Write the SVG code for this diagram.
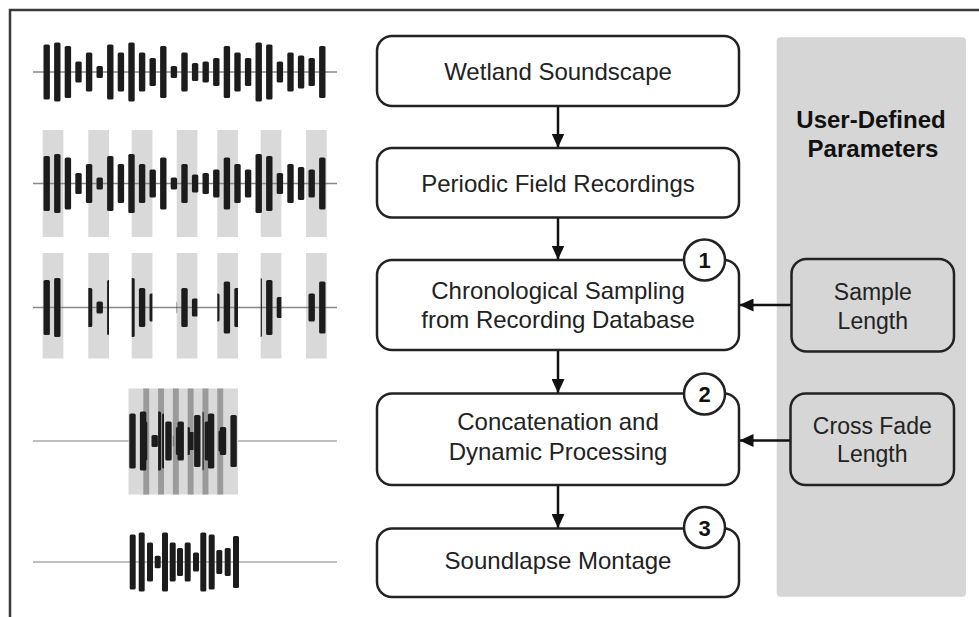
<svg xmlns="http://www.w3.org/2000/svg" xmlns:xlink="http://www.w3.org/1999/xlink" width="979" height="617" viewBox="0 0 979 617">
<style>
.node{fill:#fff;stroke:#222;stroke-width:2.5}
.param{fill:#d6d6d6;stroke:#222;stroke-width:2.5}
.t{font-family:"Liberation Sans",Arial,sans-serif;font-size:24px;fill:#222;text-anchor:middle}
.tp{font-family:"Liberation Sans",Arial,sans-serif;font-size:23px;fill:#222;text-anchor:middle}
.tb{font-family:"Liberation Sans",Arial,sans-serif;font-size:24px;font-weight:bold;fill:#111;text-anchor:middle}
.num{font-family:"Liberation Sans",Arial,sans-serif;font-size:22px;font-weight:bold;fill:#111;text-anchor:middle}
.badge{fill:#fff;stroke:#222;stroke-width:2.5}
.conn{stroke:#111;stroke-width:2.5;fill:none}
.bar{fill:#1c1c1c}
.axis{stroke:#888;stroke-width:1.3}
.axis2{stroke:#aaa;stroke-width:1.5}
.seg{fill:#d9d9d9}
.ovl{fill:#9a9a9a}
</style>
<defs>
<marker id="ah" viewBox="0 0 14 13" refX="14" refY="6.5" markerWidth="14" markerHeight="13" markerUnits="userSpaceOnUse" orient="auto">
<path d="M0,0 L14,6.5 L0,13 z" fill="#111"/>
</marker>
<g id="wave" class="bar">
<rect x="43.5" y="-27.5" width="6.4" height="55" rx="1.6"/>
<rect x="54.1" y="-29.5" width="6.4" height="59" rx="1.6"/>
<rect x="64.7" y="-26" width="6.4" height="52" rx="1.6"/>
<rect x="75.3" y="-10.5" width="6.4" height="21" rx="1.6"/>
<rect x="85.9" y="-19.5" width="6.4" height="39" rx="1.6"/>
<rect x="96.5" y="-6" width="6.4" height="12" rx="1.6"/>
<rect x="107.1" y="-27.5" width="6.4" height="55" rx="1.6"/>
<rect x="117.7" y="-19.5" width="6.4" height="39" rx="1.6"/>
<rect x="128.3" y="-29.5" width="6.4" height="59" rx="1.6"/>
<rect x="138.9" y="-19.5" width="6.4" height="39" rx="1.6"/>
<rect x="149.5" y="-14" width="6.4" height="28" rx="1.6"/>
<rect x="160.1" y="-26" width="6.4" height="52" rx="1.6"/>
<rect x="170.7" y="-6" width="6.4" height="12" rx="1.6"/>
<rect x="181.3" y="-19.5" width="6.4" height="39" rx="1.6"/>
<rect x="191.9" y="-9" width="6.4" height="18" rx="1.6"/>
<rect x="202.5" y="-10.5" width="6.4" height="21" rx="1.6"/>
<rect x="213.1" y="-14" width="6.4" height="28" rx="1.6"/>
<rect x="223.7" y="-26" width="6.4" height="52" rx="1.6"/>
<rect x="234.3" y="-19.5" width="6.4" height="39" rx="1.6"/>
<rect x="244.9" y="-14" width="6.4" height="28" rx="1.6"/>
<rect x="255.5" y="-29.5" width="6.4" height="59" rx="1.6"/>
<rect x="266.1" y="-27.5" width="6.4" height="55" rx="1.6"/>
<rect x="276.7" y="-10.5" width="6.4" height="21" rx="1.6"/>
<rect x="287.3" y="-19.5" width="6.4" height="39" rx="1.6"/>
<rect x="297.9" y="-16.5" width="6.4" height="33" rx="1.6"/>
<rect x="308.5" y="-14" width="6.4" height="28" rx="1.6"/>
<rect x="319.1" y="-26" width="6.4" height="52" rx="1.6"/>
</g>
<clipPath id="c0" clipPathUnits="userSpaceOnUse"><rect x="42.7" y="-60" width="20.7" height="120"/></clipPath>
<clipPath id="c1" clipPathUnits="userSpaceOnUse"><rect x="88.3" y="-60" width="20.7" height="120"/></clipPath>
<clipPath id="c2" clipPathUnits="userSpaceOnUse"><rect x="131.7" y="-60" width="20.7" height="120"/></clipPath>
<clipPath id="c3" clipPathUnits="userSpaceOnUse"><rect x="176.7" y="-60" width="20.7" height="120"/></clipPath>
<clipPath id="c4" clipPathUnits="userSpaceOnUse"><rect x="217.3" y="-60" width="20.7" height="120"/></clipPath>
<clipPath id="c5" clipPathUnits="userSpaceOnUse"><rect x="260.7" y="-60" width="20.7" height="120"/></clipPath>
<clipPath id="c6" clipPathUnits="userSpaceOnUse"><rect x="306" y="-60" width="20.7" height="120"/></clipPath>
</defs>

<rect x="0" y="0" width="979" height="617" fill="#fff"/>
<rect x="10" y="10" width="1000" height="700" fill="none" stroke="#3a3a3a" stroke-width="2.5"/>

<!-- Waveform illustrations -->
<g id="wave-row1">
<line class="axis" x1="33" y1="72" x2="337" y2="72"/>
<use xlink:href="#wave" href="#wave" transform="translate(0,72)"/>
</g>
<g id="wave-row2">
<g class="seg">
<rect x="42.7" y="130" width="20.7" height="107"/>
<rect x="88.3" y="130" width="20.7" height="107"/>
<rect x="131.7" y="130" width="20.7" height="107"/>
<rect x="176.7" y="130" width="20.7" height="107"/>
<rect x="217.3" y="130" width="20.7" height="107"/>
<rect x="260.7" y="130" width="20.7" height="107"/>
<rect x="306" y="130" width="20.7" height="107"/>
</g>
<line class="axis" x1="33" y1="183.5" x2="337" y2="183.5"/>
<use xlink:href="#wave" href="#wave" transform="translate(0,183.5)"/>
</g>
<g id="wave-row3">
<g class="seg">
<rect x="42.7" y="253" width="20.7" height="105.5"/>
<rect x="88.3" y="253" width="20.7" height="105.5"/>
<rect x="131.7" y="253" width="20.7" height="105.5"/>
<rect x="176.7" y="253" width="20.7" height="105.5"/>
<rect x="217.3" y="253" width="20.7" height="105.5"/>
<rect x="260.7" y="253" width="20.7" height="105.5"/>
<rect x="306" y="253" width="20.7" height="105.5"/>
</g>
<line class="axis" x1="33" y1="307.5" x2="337" y2="307.5"/>
<use xlink:href="#wave" href="#wave" transform="translate(0,307.5)" clip-path="url(#c0)"/>
<use xlink:href="#wave" href="#wave" transform="translate(0,307.5)" clip-path="url(#c1)"/>
<use xlink:href="#wave" href="#wave" transform="translate(0,307.5)" clip-path="url(#c2)"/>
<use xlink:href="#wave" href="#wave" transform="translate(0,307.5)" clip-path="url(#c3)"/>
<use xlink:href="#wave" href="#wave" transform="translate(0,307.5)" clip-path="url(#c4)"/>
<use xlink:href="#wave" href="#wave" transform="translate(0,307.5)" clip-path="url(#c5)"/>
<use xlink:href="#wave" href="#wave" transform="translate(0,307.5)" clip-path="url(#c6)"/>
</g>
<g id="wave-row4">
<line class="axis2" x1="33" y1="441" x2="337" y2="441"/>
<rect class="seg" x="128.5" y="388.5" width="109.5" height="106"/>
<g class="ovl">
<rect x="143.3" y="388.5" width="5.9" height="106"/>
<rect x="158.1" y="388.5" width="5.9" height="106"/>
<rect x="172.9" y="388.5" width="5.9" height="106"/>
<rect x="187.7" y="388.5" width="5.9" height="106"/>
<rect x="202.5" y="388.5" width="5.9" height="106"/>
<rect x="217.3" y="388.5" width="5.9" height="106"/>
</g>
<use xlink:href="#wave" href="#wave" transform="translate(85.8,441)" clip-path="url(#c0)"/>
<use xlink:href="#wave" href="#wave" transform="translate(55,441)" clip-path="url(#c1)"/>
<use xlink:href="#wave" href="#wave" transform="translate(26.4,441)" clip-path="url(#c2)"/>
<use xlink:href="#wave" href="#wave" transform="translate(-3.8,441)" clip-path="url(#c3)"/>
<use xlink:href="#wave" href="#wave" transform="translate(-29.6,441)" clip-path="url(#c4)"/>
<use xlink:href="#wave" href="#wave" transform="translate(-58.2,441)" clip-path="url(#c5)"/>
<use xlink:href="#wave" href="#wave" transform="translate(-88.7,441)" clip-path="url(#c6)"/>
</g>
<g id="wave-row5">
<line class="axis2" x1="33" y1="562" x2="337" y2="562"/>
<g class="bar">
<rect x="129.7" y="534.5" width="6" height="55" rx="1.5"/>
<rect x="138.7" y="532.5" width="6" height="59" rx="1.5"/>
<rect x="147" y="542.5" width="6" height="39" rx="1.5"/>
<rect x="154.7" y="555.7" width="6" height="12.6" rx="1.5"/>
<rect x="162" y="532.5" width="6" height="59" rx="1.5"/>
<rect x="169.7" y="542.5" width="6" height="39" rx="1.5"/>
<rect x="177" y="548" width="6" height="28" rx="1.5"/>
<rect x="184.7" y="542.5" width="6" height="39" rx="1.5"/>
<rect x="193" y="552.5" width="6" height="19" rx="1.5"/>
<rect x="200.3" y="532.5" width="6" height="59" rx="1.5"/>
<rect x="208.7" y="534.5" width="6" height="55" rx="1.5"/>
<rect x="216.3" y="550" width="6" height="24" rx="1.5"/>
<rect x="224.7" y="548" width="6" height="28" rx="1.5"/>
<rect x="233" y="536" width="6" height="52" rx="1.5"/>
</g>
</g>

<!-- Parameter panel -->
<g id="panel">
<rect x="776.7" y="37.3" width="189.3" height="559.4" rx="4" fill="#d6d6d6"/>
<text class="tb" x="871" y="128">User-Defined</text>
<text class="tb" x="873" y="157">Parameters</text>
</g>

<!-- Connectors -->
<g id="connectors">
<line class="conn" x1="558" y1="106" x2="558" y2="147.5" marker-end="url(#ah)"/>
<line class="conn" x1="558" y1="217.5" x2="558" y2="259.5" marker-end="url(#ah)"/>
<line class="conn" x1="558" y1="350" x2="558" y2="393" marker-end="url(#ah)"/>
<line class="conn" x1="558" y1="485" x2="558" y2="528" marker-end="url(#ah)"/>
<line class="conn" x1="791.5" y1="305" x2="739.5" y2="305" marker-end="url(#ah)"/>
<line class="conn" x1="790.5" y1="440.5" x2="739.5" y2="440.5" marker-end="url(#ah)"/>
</g>

<!-- Nodes -->
<g id="n-wetland">
<rect class="node" x="377" y="36" width="362" height="70" rx="15"/>
<text class="t" x="558" y="80">Wetland Soundscape</text>
</g>
<g id="n-periodic">
<rect class="node" x="377" y="148" width="362" height="69.5" rx="15"/>
<text class="t" x="558" y="192">Periodic Field Recordings</text>
</g>
<g id="n-sampling">
<rect class="node" x="377" y="260" width="362" height="90" rx="15"/>
<text class="t" x="558" y="298.5">Chronological Sampling</text>
<text class="t" x="558" y="327.5">from Recording Database</text>
<circle class="badge" cx="704.5" cy="260" r="20.5"/>
<text class="num" x="704.5" y="268">1</text>
</g>
<g id="n-concat">
<rect class="node" x="377" y="393.5" width="362" height="91.5" rx="15"/>
<text class="t" x="558" y="430">Concatenation and</text>
<text class="t" x="558" y="460">Dynamic Processing</text>
<circle class="badge" cx="704.5" cy="394" r="20.5"/>
<text class="num" x="704.5" y="402">2</text>
</g>
<g id="n-montage">
<rect class="node" x="377" y="528.5" width="362" height="68.5" rx="15"/>
<text class="t" x="558" y="568.5">Soundlapse Montage</text>
<circle class="badge" cx="704.5" cy="527.5" r="20.5"/>
<text class="num" x="704.5" y="535.5">3</text>
</g>
<g id="n-sample-length">
<rect class="param" x="791.5" y="259" width="162.5" height="92.5" rx="15"/>
<text class="tp" x="872.8" y="300">Sample</text>
<text class="tp" x="872.8" y="328.5">Length</text>
</g>
<g id="n-crossfade-length">
<rect class="param" x="790.5" y="393.5" width="163.5" height="91.5" rx="15"/>
<text class="tp" x="872.3" y="433.5">Cross Fade</text>
<text class="tp" x="872.3" y="462">Length</text>
</g>
</svg>
